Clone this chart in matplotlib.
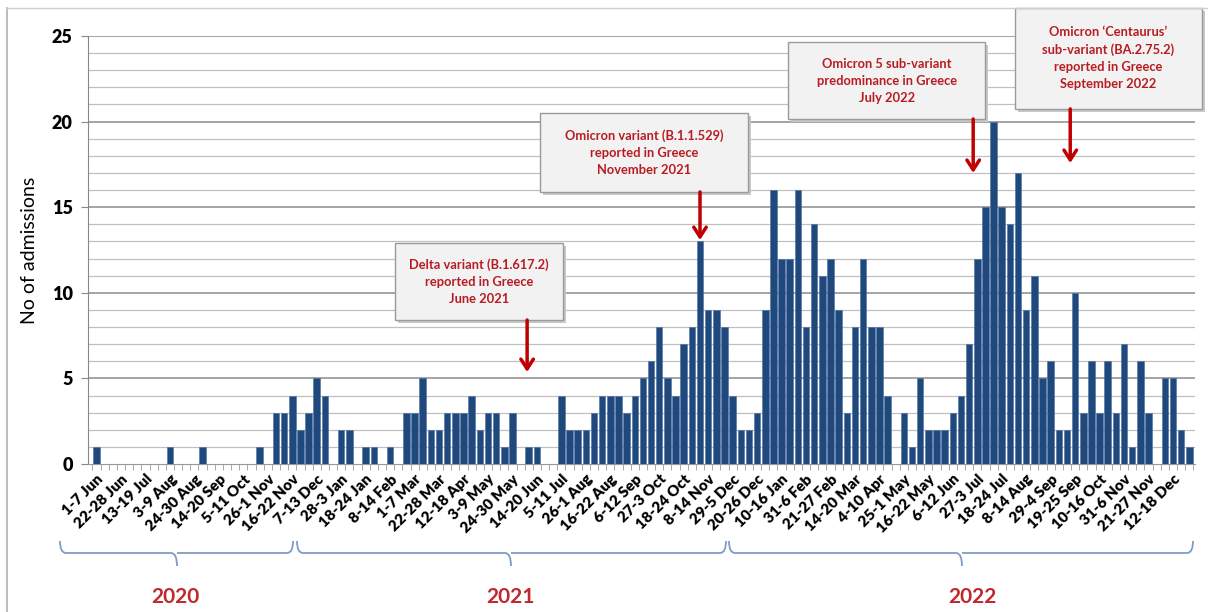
import matplotlib
matplotlib.use('Agg')
import matplotlib.pyplot as plt
import numpy as np
from matplotlib.patches import Rectangle, PathPatch
from matplotlib.path import Path

plt.rcParams['font.family'] = ['Lato', 'DejaVu Sans']

# admissions por semana, de 1-7 Jun 2020 a 26-1 Jan 2023
admissoes = [1, 0, 0, 0, 0, 0, 0, 0, 0, 1, 0, 0, 0, 1, 0, 0, 0, 0, 0, 0,
             1, 0, 3, 3, 4, 2, 3, 5, 4, 0, 2, 2, 0, 1, 1, 0, 1, 0, 3, 3,
             5, 2, 2, 3, 3, 3, 4, 2, 3, 3, 1, 3, 0, 1, 1, 0, 0, 4, 2, 2,
             2, 3, 4, 4, 4, 3, 4, 5, 6, 8, 5, 4, 7, 8, 13, 9, 9, 8, 4, 2,
             2, 3, 9, 16, 12, 12, 16, 8, 14, 11, 12, 9, 3, 8, 12, 8, 8, 4, 0, 3,
             1, 5, 2, 2, 2, 3, 4, 7, 12, 15, 20, 15, 14, 17, 9, 11, 5, 6, 2, 2,
             10, 3, 6, 3, 6, 3, 7, 1, 6, 3, 0, 5, 5, 2, 1]

rotulos_semana = ['1-7 Jun', '22-28 Jun', '13-19 Jul', '3-9 Aug', '24-30 Aug', '14-20 Sep',
                  '5-11 Oct', '26-1 Nov', '16-22 Nov', '7-13 Dec', '28-3 Jan', '18-24 Jan',
                  '8-14 Feb', '1-7 Mar', '22-28 Mar', '12-18 Apr', '3-9 May', '24-30 May',
                  '14-20 Jun', '5-11 Jul', '26-1 Aug', '16-22 Aug', '6-12 Sep', '27-3 Oct',
                  '18-24 Oct', '8-14 Nov', '29-5 Dec', '20-26 Dec', '10-16 Jan', '31-6 Feb',
                  '21-27 Feb', '14-20 Mar', '4-10 Apr', '25-1 May', '16-22 May', '6-12 Jun',
                  '27-3 Jul', '18-24 Jul', '8-14 Aug', '29-4 Sep', '19-25 Sep', '10-16 Oct',
                  '31-6 Nov', '21-27 Nov', '12-18 Dec']
passo_rotulo = 3

anos = ['2020', '2021', '2022']

# (texto, semana da seta)
eventos = [
    ('Delta variant (B.1.617.2)\nreported in Greece\nJune 2021', 52.8),
    ('Omicron variant (B.1.1.529)\nreported in Greece\nNovember 2021', 74.0),
    ('Omicron 5 sub-variant\npredominance in Greece\nJuly 2022', 107.5),
    ('Omicron \u2018Centaurus\u2019\nsub-variant (BA.2.75.2)\nreported in Greece\nSeptember 2022', 119.4),
]

cor_barra = '#1f497d'
cor_vermelho = '#b71c22'

W, H = 1208, 612
fig = plt.figure(figsize=(W / 100, H / 100), dpi=100)
ax = fig.add_axes([88 / W, 1 - 464 / H, 1107 / W, 428 / H])

x = np.arange(len(admissoes))
ax.bar(x, admissoes, width=0.8, color=cor_barra, edgecolor='#4a6fa3', linewidth=0.4, zorder=3)

ax.set_xlim(-1.05, 134.7)
ax.set_ylim(0, 25)

# grade: linhas menores a cada 1, maiores a cada 5
for v in range(1, 26):
    maior = v % 5 == 0
    ax.axhline(v, color='#8c8c8c' if maior else '#c0c0c0', lw=1.1 if maior else 0.9, zorder=1)

ax.set_yticks(range(0, 26, 5))
ax.set_yticklabels([str(v) for v in range(0, 26, 5)], fontsize=13, fontweight='heavy')
ax.tick_params(axis='y', length=5, color='#888888', pad=6)
ax.set_ylabel('No of admissions', fontsize=14, labelpad=10)

ax.set_xticks(np.arange(0, len(rotulos_semana) * passo_rotulo, passo_rotulo))
ax.set_xticklabels(rotulos_semana, rotation=45, ha='right', rotation_mode='anchor',
                   fontsize=11, fontweight='heavy')
ax.set_xticks(np.arange(-0.5, len(admissoes), 1), minor=True)
ax.tick_params(axis='x', which='major', length=0, pad=6)
ax.tick_params(axis='x', which='minor', length=4, color='#999999')

for lado in ['top', 'right']:
    ax.spines[lado].set_visible(False)
ax.spines['left'].set_color('#888888')
ax.spines['bottom'].set_color('#999999')

# caixas das anotações (em coordenadas de dados)
caixas = [(36.6, 57.2, 8.41, 12.91), (54.4, 79.9, 15.89, 20.5),
          (84.8, 108.97, 20.15, 24.65), (112.6, 135.6, 20.74, 26.64)]
pontas = [5.37, 13.08, 17.0, 17.58]

for (texto, xs), (x0, x1, y0, y1), yp in zip(eventos, caixas, pontas):
    sombra = Rectangle((x0 + 0.35, y0 - 0.18), x1 - x0, y1 - y0, fc='#c8c8c8', ec='none',
                       zorder=4, clip_on=False)
    ax.add_patch(sombra)
    caixa = Rectangle((x0, y0), x1 - x0, y1 - y0, fc='#f2f2f2', ec='#9a9a9a', lw=1,
                      zorder=5, clip_on=False)
    ax.add_patch(caixa)
    ax.text((x0 + x1) / 2, (y0 + y1) / 2, texto, ha='center', va='center', color=cor_vermelho,
            fontsize=9.3, fontweight='bold', linespacing=1.5, zorder=6, clip_on=False)
    ax.annotate('', xy=(xs, yp), xytext=(xs, y0), zorder=6, annotation_clip=False,
                arrowprops=dict(arrowstyle='->,head_length=0.7,head_width=0.45',
                                color='#c00000', lw=2.5, shrinkA=0, shrinkB=0))

# chaves dos anos (em pixels da figura)
def px(xp, yp):
    return (xp / W, 1 - yp / H)

chaves = [(60, 177, 293), (297, 511, 726), (729, 962, 1193)]
pos_ano = [175, 510, 972]
for (a, m, b), ano, xa in zip(chaves, anos, pos_ano):
    yb, yt, ym = 553, 541, 566
    verts = [px(a, yt), px(a, yb), px(a + 6, yb),
             px(m - 6, yb), px(m, yb), px(m, ym),
             px(m, yb), px(m + 6, yb),
             px(b - 6, yb), px(b, yb), px(b, yt)]
    codes = [Path.MOVETO, Path.CURVE3, Path.CURVE3,
             Path.LINETO, Path.CURVE3, Path.CURVE3,
             Path.MOVETO, Path.LINETO,
             Path.LINETO, Path.CURVE3, Path.CURVE3]
    fig.patches.append(PathPatch(Path(verts, codes), fc='none', ec='#7f9cc4', lw=1.3,
                                 transform=fig.transFigure))
    fig.text(*px(xa, 597), ano, ha='center', va='center', color='#c0282d',
             fontsize=15, fontweight='bold')

# moldura cinza
fig.add_artist(plt.Line2D([7 / W, 7 / W], [0, 1 - 8 / H], transform=fig.transFigure,
                          color='#b0b0b0', lw=1.2))
fig.add_artist(plt.Line2D([7 / W, 1], [1 - 8 / H, 1 - 8 / H], transform=fig.transFigure,
                          color='#d0d0d0', lw=1.0))

fig.savefig('out.png', dpi=100)
